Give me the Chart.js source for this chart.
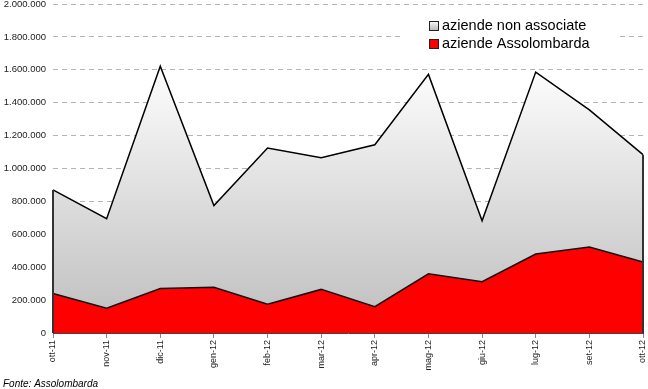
<!DOCTYPE html>
<html>
<head>
<meta charset="utf-8">
<script src="https://cdn.jsdelivr.net/npm/chart.js@4.4.0/dist/chart.umd.min.js"></script>
<style>
  html, body { margin: 0; padding: 0; background: #fff; }
  #wrap { width: 648px; height: 389px; position: relative; }
</style>
</head>
<body>
<div id="wrap"><canvas id="chart" width="648" height="389"></canvas></div>
<script>
// dati
const mesi = ['ott-11', 'nov-11', 'dic-11', 'gen-12', 'feb-12', 'mar-12', 'apr-12', 'mag-12', 'giu-12', 'lug-12', 'set-12', 'ott-12']
const assolombarda = [240000, 150000, 270000, 278000, 175000, 265000, 160000, 360000, 312000, 480000, 522000, 432000]
const nonAssociate = [630000, 545000, 1352000, 497000, 950000, 800000, 984000, 1212000, 370000, 1106000, 834000, 652000]
const yTicks = [0, 200000, 400000, 600000, 800000, 1000000, 1200000, 1400000, 1600000, 1800000, 2000000]
const legendLabels = ['aziende non associate', 'aziende Assolombarda']
const fonte = 'Fonte: Assolombarda'

const FONT = '"Liberation Sans", Arial, sans-serif'

// formato italiano 1.000.000
function formatIt(v) {
  return String(v).replace(/\B(?=(\d{3})+(?!\d))/g, '.')
}

// sfumatura grigia dell'area
function greyGradient(context) {
  const chart = context.chart
  const area = chart.chartArea
  if (!area) return '#dddddd'
  const g = chart.ctx.createLinearGradient(0, area.top + 56, 0, area.bottom)
  g.addColorStop(0, '#ffffff')
  g.addColorStop(1, '#bdbdbd')
  return g
}

// bordi verticali dell'area, legenda e fonte
const extras = {
  id: 'extras',
  afterDatasetsDraw(chart) {
    const ctx = chart.ctx
    const x = chart.scales.x
    const y = chart.scales.y
    const last = mesi.length - 1
    ctx.save()
    ctx.strokeStyle = '#333'
    ctx.lineWidth = 2
    const x0 = x.getPixelForValue(0)
    const x1 = x.getPixelForValue(last)
    ctx.beginPath()
    ctx.moveTo(x0, y.getPixelForValue(assolombarda[0] + nonAssociate[0]))
    ctx.lineTo(x0, y.getPixelForValue(0))
    ctx.moveTo(x1, y.getPixelForValue(assolombarda[last] + nonAssociate[last]))
    ctx.lineTo(x1, y.getPixelForValue(0))
    ctx.stroke()
    ctx.restore()
  },
  afterDraw(chart) {
    const ctx = chart.ctx
    ctx.save()
    // legenda
    ctx.fillStyle = '#fff'
    ctx.fillRect(402, 10, 216, 54)
    const boxes = [null, 'red']
    legendLabels.forEach((lab, i) => {
      const by = 21 + i * 18
      if (i === 0) {
        const g = ctx.createLinearGradient(0, by, 0, by + 9)
        g.addColorStop(0, '#ffffff')
        g.addColorStop(1, '#bbbbbb')
        ctx.fillStyle = g
      } else {
        ctx.fillStyle = boxes[i]
      }
      ctx.fillRect(429.5, by + 0.5, 9, 9)
      ctx.strokeStyle = '#222'
      ctx.lineWidth = 1
      ctx.strokeRect(429.5, by + 0.5, 9, 9)
      ctx.fillStyle = '#000'
      ctx.font = '14.5px ' + FONT
      ctx.textBaseline = 'alphabetic'
      ctx.textAlign = 'left'
      ctx.fillText(lab, 442, by + 9)
    })
    // fonte
    ctx.font = 'italic 10px ' + FONT
    ctx.fillStyle = '#000'
    ctx.fillText(fonte, 3, 387)
    ctx.restore()
  }
}

const ctx = document.getElementById('chart').getContext('2d')
const chart = new Chart(ctx, {
  type: 'line',
  data: {
    labels: mesi,
    datasets: [
      {
        label: legendLabels[1],
        data: assolombarda,
        borderColor: '#111',
        borderWidth: 1.5,
        backgroundColor: '#ff0000',
        fill: 'origin',
        pointRadius: 0,
        tension: 0
      },
      {
        label: legendLabels[0],
        data: nonAssociate,
        borderColor: '#000',
        borderWidth: 1.5,
        backgroundColor: greyGradient,
        fill: '-1',
        pointRadius: 0,
        tension: 0
      }
    ]
  },
  options: {
    responsive: false,
    animation: false,
    layout: { padding: { top: 4, right: 5, left: 0, bottom: 0 } },
    plugins: {
      legend: { display: false },
      tooltip: { enabled: false }
    },
    scales: {
      x: {
        offset: false,
        border: { display: true, color: '#444', width: 1 },
        grid: { drawOnChartArea: false, drawTicks: true, tickLength: 5, color: '#888' },
        ticks: {
          minRotation: 90,
          maxRotation: 90,
          autoSkip: false,
          padding: 2,
          color: '#222',
          font: { family: FONT, size: 9 }
        },
        afterFit(scale) {
          scale.height = 56
          scale.paddingLeft = 0
          scale.paddingRight = 0
        }
      },
      y: {
        stacked: true,
        min: 0,
        max: 2000000,
        border: { display: false, dash: [5, 4] },
        grid: {
          color: '#b4b4b4',
          lineWidth: 1,
          drawTicks: false
        },
        afterBuildTicks(scale) {
          scale.ticks = yTicks.map(v => ({ value: v }))
        },
        ticks: {
          padding: 7,
          color: '#222',
          font: { family: FONT, size: 9.5 },
          callback: (v) => formatIt(v)
        },
        afterFit(scale) {
          scale.width = 53
          scale.paddingTop = 0
          scale.paddingBottom = 0
        }
      }
    }
  },
  plugins: [extras]
})
</script>
</body>
</html>
